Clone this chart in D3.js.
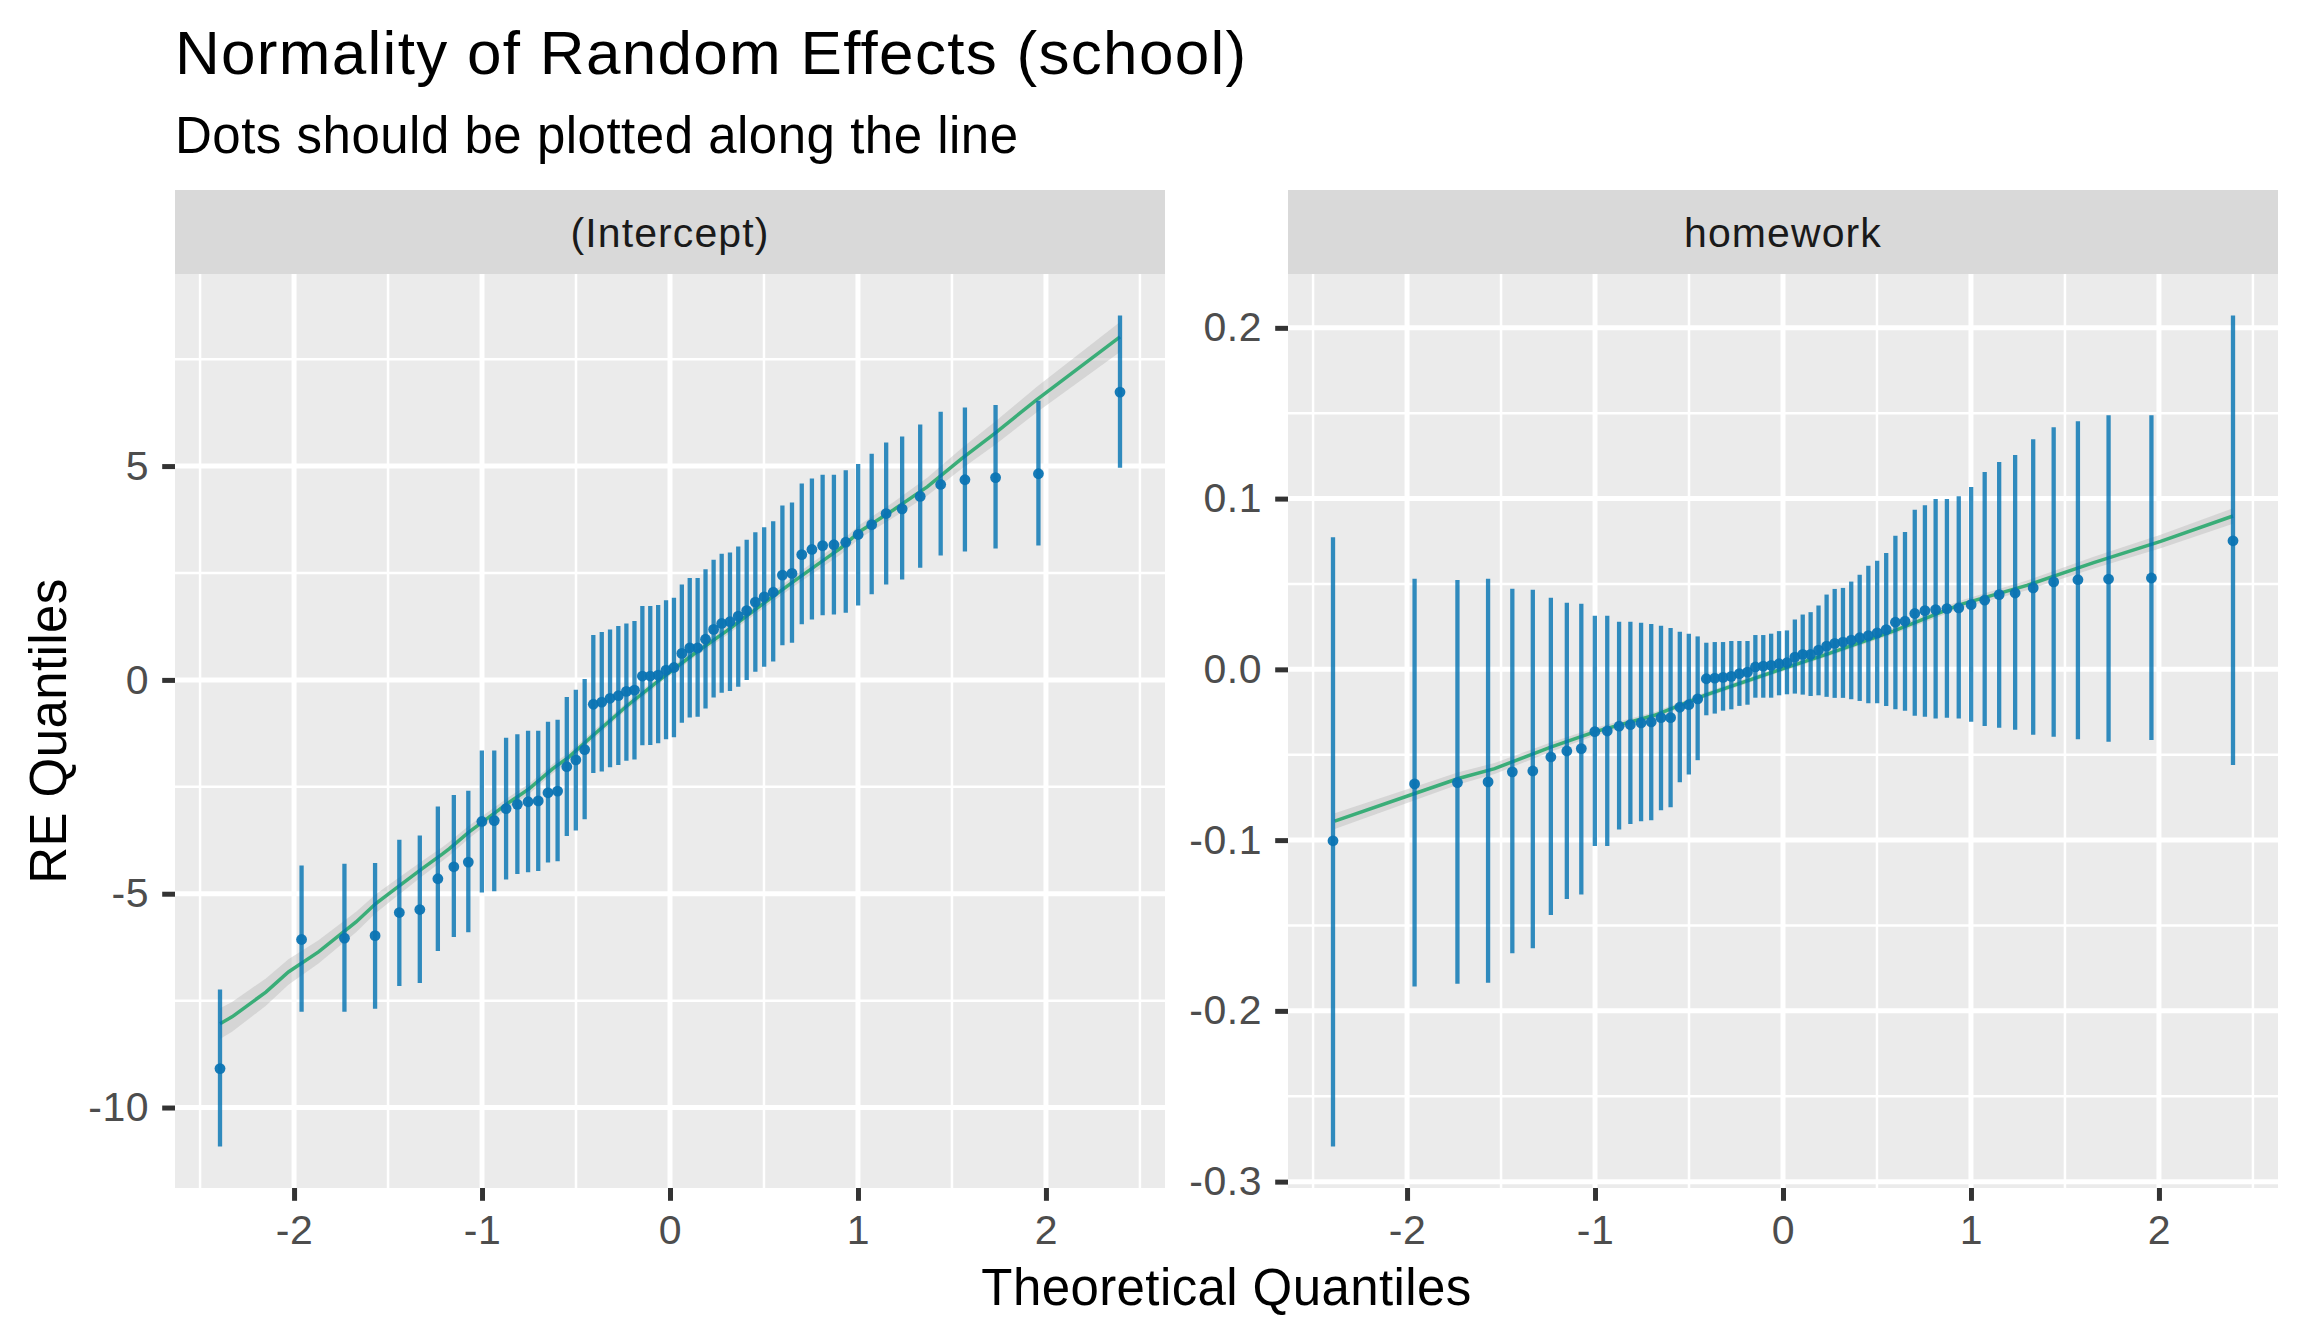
<!DOCTYPE html>
<html>
<head>
<meta charset="utf-8">
<script src="https://cdn.jsdelivr.net/npm/d3@7"></script>
<style>
  body { margin: 0; background: #fff; }
  text { font-family: "Liberation Sans", Arial, sans-serif; }
</style>
</head>
<body>
<script>
// theoretical quantiles of the 60 schools (shared x of both facets)
var theoQ = [-2.394, -1.960, -1.732, -1.569, -1.440, -1.331, -1.235, -1.150, -1.073, -1.001,
  -0.935, -0.872, -0.812, -0.755, -0.701, -0.649, -0.598, -0.549, -0.501, -0.454,
  -0.408, -0.363, -0.319, -0.275, -0.232, -0.189, -0.147, -0.105, -0.063, -0.021,
  0.021, 0.063, 0.105, 0.147, 0.189, 0.232, 0.275, 0.319, 0.363, 0.408,
  0.454, 0.501, 0.549, 0.598, 0.649, 0.701, 0.755, 0.812, 0.872, 0.935,
  1.001, 1.073, 1.150, 1.235, 1.331, 1.440, 1.569, 1.732, 1.960, 2.394];

// (Intercept) random effects: estimate, lower, upper
var interceptEst = [-9.09, -6.07, -6.04, -5.98, -5.44, -5.37, -4.65, -4.37, -4.26, -3.31,
  -3.29, -3.01, -2.91, -2.85, -2.83, -2.64, -2.60, -2.03, -1.87, -1.63,
  -0.57, -0.52, -0.43, -0.37, -0.27, -0.24, 0.09, 0.09, 0.11, 0.23,
  0.29, 0.62, 0.75, 0.75, 0.95, 1.18, 1.32, 1.36, 1.49, 1.62,
  1.82, 1.94, 2.05, 2.45, 2.49, 2.93, 3.05, 3.14, 3.16, 3.22,
  3.40, 3.63, 3.89, 4.00, 4.29, 4.57, 4.68, 4.73, 4.82, 6.73];
var interceptLo = [-10.91, -7.76, -7.76, -7.69, -7.16, -7.09, -6.34, -6.01, -5.90, -4.97,
  -4.94, -4.67, -4.54, -4.50, -4.47, -4.27, -4.24, -3.65, -3.52, -3.26,
  -2.18, -2.14, -2.04, -1.99, -1.89, -1.86, -1.53, -1.52, -1.48, -1.39,
  -1.34, -1.00, -0.88, -0.86, -0.67, -0.41, -0.30, -0.26, -0.16, 0.00,
  0.19, 0.31, 0.43, 0.81, 0.87, 1.30, 1.41, 1.51, 1.53, 1.57,
  1.74, 2.00, 2.23, 2.35, 2.62, 2.91, 3.00, 3.07, 3.14, 4.96];
var interceptHi = [-7.24, -4.34, -4.30, -4.28, -3.74, -3.64, -2.96, -2.69, -2.59, -1.65,
  -1.65, -1.35, -1.27, -1.19, -1.19, -0.98, -0.93, -0.40, -0.23, 0.02,
  1.05, 1.12, 1.18, 1.26, 1.32, 1.38, 1.73, 1.73, 1.75, 1.86,
  1.92, 2.23, 2.38, 2.38, 2.59, 2.81, 2.95, 2.98, 3.12, 3.28,
  3.45, 3.57, 3.71, 4.08, 4.15, 4.59, 4.71, 4.80, 4.80, 4.90,
  5.05, 5.29, 5.55, 5.69, 5.97, 6.27, 6.37, 6.43, 6.53, 8.52];

// homework random slopes: estimate, lower, upper
var homeworkEst = [-0.1004, -0.0671, -0.0663, -0.0659, -0.0600, -0.0595, -0.0513, -0.0478, -0.0464, -0.0365,
  -0.0361, -0.0333, -0.0324, -0.0314, -0.0308, -0.0283, -0.0283, -0.0222, -0.0207, -0.0173,
  -0.0055, -0.0051, -0.0047, -0.0041, -0.0025, -0.0016, 0.0014, 0.0019, 0.0023, 0.0033,
  0.0039, 0.0072, 0.0088, 0.0088, 0.0113, 0.0136, 0.0152, 0.0160, 0.0171, 0.0185,
  0.0198, 0.0214, 0.0233, 0.0276, 0.0282, 0.0327, 0.0344, 0.0350, 0.0356, 0.0360,
  0.0379, 0.0405, 0.0438, 0.0447, 0.0477, 0.0512, 0.0525, 0.0529, 0.0535, 0.0753];
var homeworkLo = [-0.2794, -0.1857, -0.1841, -0.1835, -0.1663, -0.1633, -0.1439, -0.1345, -0.1318, -0.1035,
  -0.1035, -0.0938, -0.0906, -0.0889, -0.0883, -0.0825, -0.0807, -0.0661, -0.0616, -0.0532,
  -0.0269, -0.0259, -0.0242, -0.0234, -0.0214, -0.0207, -0.0166, -0.0166, -0.0166, -0.0152,
  -0.0146, -0.0142, -0.0148, -0.0156, -0.0152, -0.0161, -0.0167, -0.0167, -0.0175, -0.0185,
  -0.0198, -0.0198, -0.0214, -0.0233, -0.0243, -0.0272, -0.0278, -0.0288, -0.0284, -0.0288,
  -0.0307, -0.0331, -0.0342, -0.0354, -0.0383, -0.0395, -0.0409, -0.0424, -0.0414, -0.0560];
var homeworkHi = [0.0774, 0.0530, 0.0524, 0.0530, 0.0472, 0.0466, 0.0419, 0.0390, 0.0384, 0.0314,
  0.0314, 0.0279, 0.0279, 0.0273, 0.0265, 0.0255, 0.0242, 0.0220, 0.0209, 0.0193,
  0.0156, 0.0160, 0.0160, 0.0166, 0.0166, 0.0166, 0.0201, 0.0201, 0.0209, 0.0224,
  0.0228, 0.0292, 0.0321, 0.0335, 0.0374, 0.0438, 0.0471, 0.0477, 0.0514, 0.0554,
  0.0607, 0.0636, 0.0681, 0.0782, 0.0804, 0.0934, 0.0961, 0.0998, 0.0998, 0.1014,
  0.1068, 0.1156, 0.1214, 0.1255, 0.1348, 0.1418, 0.1453, 0.1488, 0.1488, 0.2072];

// smoothed reference lines with their band half widths
var interceptLineX = [-2.394, -2.33, -2.15, -2.03, -1.87, -1.67, -1.565, -1.46, -1.32, -1.21, -1.175,
  -1.07, -1.0, -0.855, -0.75, -0.625, -0.54, -0.41, -0.23, -0.05, 0.125, 0.30, 0.48,
  0.66, 0.84, 0.91, 1.01, 1.19, 1.37, 1.55, 1.73, 1.95, 2.394];
var interceptLineY = [-8.04, -7.88, -7.30, -6.83, -6.36, -5.66, -5.23, -4.88, -4.42, -4.07, -3.95,
  -3.56, -3.33, -2.86, -2.55, -2.08, -1.81, -1.30, -0.61, 0.02, 0.60, 1.14, 1.73,
  2.31, 2.87, 3.09, 3.47, 3.98, 4.52, 5.17, 5.77, 6.55, 8.02];
var interceptLineSe = [0.36, 0.35, 0.32, 0.30, 0.27, 0.24, 0.22, 0.20, 0.18, 0.16, 0.16,
  0.15, 0.14, 0.13, 0.12, 0.11, 0.10, 0.10, 0.09, 0.09, 0.09, 0.10, 0.11,
  0.12, 0.14, 0.15, 0.16, 0.18, 0.21, 0.24, 0.27, 0.30, 0.35];
var homeworkLineX = [-2.385, -1.959, -1.727, -1.534, -1.232, -1.002, -0.683, -0.417, 0.0,
  0.231, 0.587, 0.942, 1.298, 1.653, 2.009, 2.394];
var homeworkLineY = [-0.0889, -0.0727, -0.0639, -0.0581, -0.0454, -0.0366, -0.0269, -0.0152, 0.0004,
  0.0088, 0.0224, 0.0379, 0.0492, 0.0625, 0.0749, 0.0898];
var homeworkLineSe = [0.0046, 0.0040, 0.0036, 0.0032, 0.0027, 0.0023, 0.0019, 0.0016, 0.0015,
  0.0016, 0.0019, 0.0023, 0.0028, 0.0034, 0.0040, 0.0046];

var facetNames = ["(Intercept)", "homework"];
var xTicks = [-2, -1, 0, 1, 2];
var interceptTicks = [-10, -5, 0, 5];
var homeworkTicks = [-0.3, -0.2, -0.1, 0.0, 0.1, 0.2];

var titleText = "Normality of Random Effects (school)";
var subtitleText = "Dots should be plotted along the line";
var xTitle = "Theoretical Quantiles";
var yTitle = "RE Quantiles";

var W = 2304, H = 1344;
var panelW = 990, panelTop = 274, panelBottom = 1188, stripTop = 190;
var panelLeft = [175, 1288];

var svg = d3.select("body").append("svg")
  .attr("width", W)
  .attr("height", H);

svg.append("rect").attr("width", W).attr("height", H).attr("fill", "#ffffff");

var facets = [
  {name: facetNames[0], est: interceptEst, lo: interceptLo, hi: interceptHi,
   lx: interceptLineX, ly: interceptLineY, lse: interceptLineSe, ticks: interceptTicks,
   fmt: function(d) { return String(d); }},
  {name: facetNames[1], est: homeworkEst, lo: homeworkLo, hi: homeworkHi,
   lx: homeworkLineX, ly: homeworkLineY, lse: homeworkLineSe, ticks: homeworkTicks,
   fmt: function(d) { return d.toFixed(1); }}
];

// ggplot style 5% expansion
function expand(lo, hi) {
  var pad = (hi - lo) * 0.05;
  return [lo - pad, hi + pad];
}
// minor breaks: midpoints between majors, plus one beyond each end
function minors(ticks, dom) {
  var step = ticks[1] - ticks[0], out = [];
  out.push(ticks[0] - step / 2);
  for (var i = 0; i < ticks.length; i++) out.push(ticks[i] + step / 2);
  return out.filter(function(d) { return d > dom[0] && d < dom[1]; });
}

var xDom = expand(d3.min(theoQ), d3.max(theoQ));

facets.forEach(function(f, k) {
  var x0 = panelLeft[k];
  var x = d3.scaleLinear().domain(xDom).range([x0, x0 + panelW]);
  var yMin = d3.min([d3.min(f.lo), d3.min(f.ly.map(function(d, i) { return d - f.lse[i]; }))]);
  var yMax = d3.max([d3.max(f.hi), d3.max(f.ly.map(function(d, i) { return d + f.lse[i]; }))]);
  var yDom = expand(yMin, yMax);
  var y = d3.scaleLinear().domain(yDom).range([panelBottom, panelTop]);

  var g = svg.append("g");

  // strip
  g.append("rect")
    .attr("x", x0).attr("y", stripTop)
    .attr("width", panelW).attr("height", panelTop - stripTop)
    .attr("fill", "#d9d9d9");
  g.append("text")
    .attr("x", x0 + panelW / 2).attr("y", (stripTop + panelTop) / 2)
    .attr("dy", "0.36em")
    .attr("text-anchor", "middle")
    .attr("font-size", 41)
    .attr("letter-spacing", 1.1)
    .attr("fill", "#1a1a1a")
    .text(f.name);

  // panel
  g.append("rect")
    .attr("x", x0).attr("y", panelTop)
    .attr("width", panelW).attr("height", panelBottom - panelTop)
    .attr("fill", "#ebebeb");

  var xMinor = minors(xTicks, xDom), yMinor = minors(f.ticks, yDom);
  g.selectAll(".vminor").data(xMinor).enter().append("line")
    .attr("x1", x).attr("x2", x).attr("y1", panelTop).attr("y2", panelBottom)
    .attr("stroke", "#fff").attr("stroke-width", 2.5);
  g.selectAll(".hminor").data(yMinor).enter().append("line")
    .attr("y1", y).attr("y2", y).attr("x1", x0).attr("x2", x0 + panelW)
    .attr("stroke", "#fff").attr("stroke-width", 2.5);
  g.selectAll(".vmajor").data(xTicks).enter().append("line")
    .attr("x1", x).attr("x2", x).attr("y1", panelTop).attr("y2", panelBottom)
    .attr("stroke", "#fff").attr("stroke-width", 5);
  g.selectAll(".hmajor").data(f.ticks).enter().append("line")
    .attr("y1", y).attr("y2", y).attr("x1", x0).attr("x2", x0 + panelW)
    .attr("stroke", "#fff").attr("stroke-width", 5);

  // smooth band and line
  var idx = d3.range(f.lx.length);
  g.append("path")
    .datum(idx)
    .attr("d", d3.area()
      .x(function(i) { return x(f.lx[i]); })
      .y0(function(i) { return y(f.ly[i] - f.lse[i]); })
      .y1(function(i) { return y(f.ly[i] + f.lse[i]); }))
    .attr("fill", "#b3b3b3").attr("opacity", 0.4);
  g.append("path")
    .datum(idx)
    .attr("d", d3.line()
      .x(function(i) { return x(f.lx[i]); })
      .y(function(i) { return y(f.ly[i]); }))
    .attr("fill", "none")
    .attr("stroke", "#3aad78")
    .attr("stroke-width", 3.5);

  // error bars and dots
  var pts = d3.range(theoQ.length);
  g.selectAll(".bar").data(pts).enter().append("line")
    .attr("x1", function(i) { return x(theoQ[i]); })
    .attr("x2", function(i) { return x(theoQ[i]); })
    .attr("y1", function(i) { return y(f.lo[i]); })
    .attr("y2", function(i) { return y(f.hi[i]); })
    .attr("stroke", "#0072b2").attr("stroke-opacity", 0.8)
    .attr("stroke-width", 4.3);
  g.selectAll(".dot").data(pts).enter().append("circle")
    .attr("cx", function(i) { return x(theoQ[i]); })
    .attr("cy", function(i) { return y(f.est[i]); })
    .attr("r", 5.4)
    .attr("fill", "#0b74b3").attr("fill-opacity", 0.95);

  // axes
  var ax = g.append("g")
    .attr("transform", "translate(0," + panelBottom + ")")
    .call(d3.axisBottom(x).tickValues(xTicks).tickSize(12.8).tickPadding(14)
      .tickFormat(function(d) { return String(d); }));
  var ay = g.append("g")
    .attr("transform", "translate(" + x0 + ",0)")
    .call(d3.axisLeft(y).tickValues(f.ticks).tickSize(12.8).tickPadding(13)
      .tickFormat(f.fmt));
  [ax, ay].forEach(function(a) {
    a.select(".domain").remove();
    a.selectAll(".tick line").attr("stroke", "#333333").attr("stroke-width", 5);
    a.selectAll(".tick text")
      .attr("font-size", 41)
      .attr("font-family", "Liberation Sans, Arial, sans-serif")
      .attr("letter-spacing", 0.6)
      .attr("fill", "#4d4d4d");
  });
});

// titles
svg.append("text")
  .attr("x", 175).attr("y", 74)
  .attr("font-size", 62).attr("fill", "#000")
  .attr("letter-spacing", 1.3)
  .text(titleText);
svg.append("text")
  .attr("x", 175).attr("y", 153)
  .attr("font-size", 51).attr("fill", "#000")
  .attr("letter-spacing", 0.5)
  .text(subtitleText);
svg.append("text")
  .attr("x", (panelLeft[0] + panelLeft[1] + panelW) / 2).attr("y", 1305)
  .attr("text-anchor", "middle")
  .attr("font-size", 51).attr("fill", "#000")
  .attr("letter-spacing", 0.4)
  .text(xTitle);
svg.append("text")
  .attr("transform", "translate(66," + (panelTop + panelBottom) / 2 + ") rotate(-90)")
  .attr("text-anchor", "middle")
  .attr("font-size", 51).attr("fill", "#000")
  .attr("letter-spacing", 0.4)
  .text(yTitle);
</script>
</body>
</html>
